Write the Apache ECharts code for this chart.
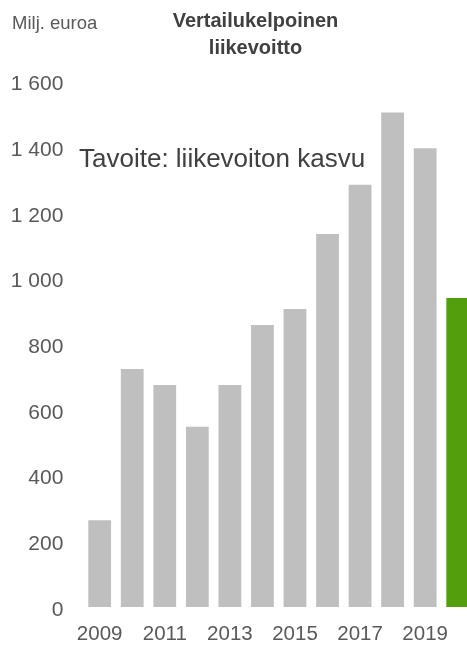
<!DOCTYPE html>
<html>
<head>
<meta charset="utf-8">
<script src="https://cdn.jsdelivr.net/npm/echarts@6/dist/echarts.min.js"></script>
<style>
  html, body { margin: 0; padding: 0; background: #fff; overflow: hidden; }
  /* the last (green) bar runs past the right edge of the picture */
  #chart { width: 474px; height: 645px; }
</style>
</head>
<body>
<div id="chart"></div>
<script>
// vuodet ja vertailukelpoinen liikevoitto (milj. euroa)
const years = ['2009', '2010', '2011', '2012', '2013', '2014', '2015', '2016', '2017', '2018', '2019', '2020']
const profit = [264, 725, 676, 549, 676, 859, 908, 1136, 1286, 1506, 1397, 941]
const yTicks = [0, 200, 400, 600, 800, 1000, 1200, 1400, 1600]

const chart = echarts.init(document.getElementById('chart'))
const font = '"Liberation Sans", Arial, sans-serif'

const option = {
  animation: false,
  backgroundColor: '#fff',
  textStyle: { fontFamily: font },
  grid: {
    left: 83.4,
    right: 0,
    top: 81.7,
    bottom: 37.7,
    containLabel: false
  },
  graphic: [
    {
      type: 'text',
      x: 12,
      y: 14,
      style: { text: 'Milj. euroa', fill: '#595959', font: '18.5px ' + font }
    },
    {
      type: 'text',
      x: 255.5,
      y: 8,
      style: {
        text: 'Vertailukelpoinen\nliikevoitto',
        fill: '#404040',
        font: 'bold 20px ' + font,
        align: 'center',
        verticalAlign: 'top',
        lineHeight: 27
      }
    },
    {
      type: 'text',
      x: 79,
      y: 147,
      style: { text: 'Tavoite: liikevoiton kasvu', fill: '#404040', font: '26px ' + font }
    }
  ],
  xAxis: {
    type: 'category',
    data: years,
    axisLine: { show: false },
    axisTick: { show: false },
    axisLabel: {
      interval: 1,
      color: '#595959',
      fontSize: 20.5,
      margin: 17
    }
  },
  yAxis: {
    type: 'value',
    min: yTicks[0],
    max: yTicks[yTicks.length - 1],
    interval: 200,
    axisLine: { show: false },
    axisTick: { show: false },
    splitLine: { show: false },
    axisLabel: {
      margin: 20,
      formatter: v => '{n|' + String(v).replace(/\B(?=(\d{3})+(?!\d))/g, ' ') + '}',
      rich: {
        n: {
          color: '#595959',
          fontSize: 21,
          fontFamily: font,
          padding: [6, 0, 0, 0]
        }
      }
    }
  },
  series: [
    {
      type: 'bar',
      data: profit,
      barCategoryGap: '30%',
      itemStyle: {
        color: p => p.dataIndex === years.length - 1 ? '#529e0c' : '#bfbfbf'
      }
    }
  ]
}

chart.setOption(option)
</script>
</body>
</html>
